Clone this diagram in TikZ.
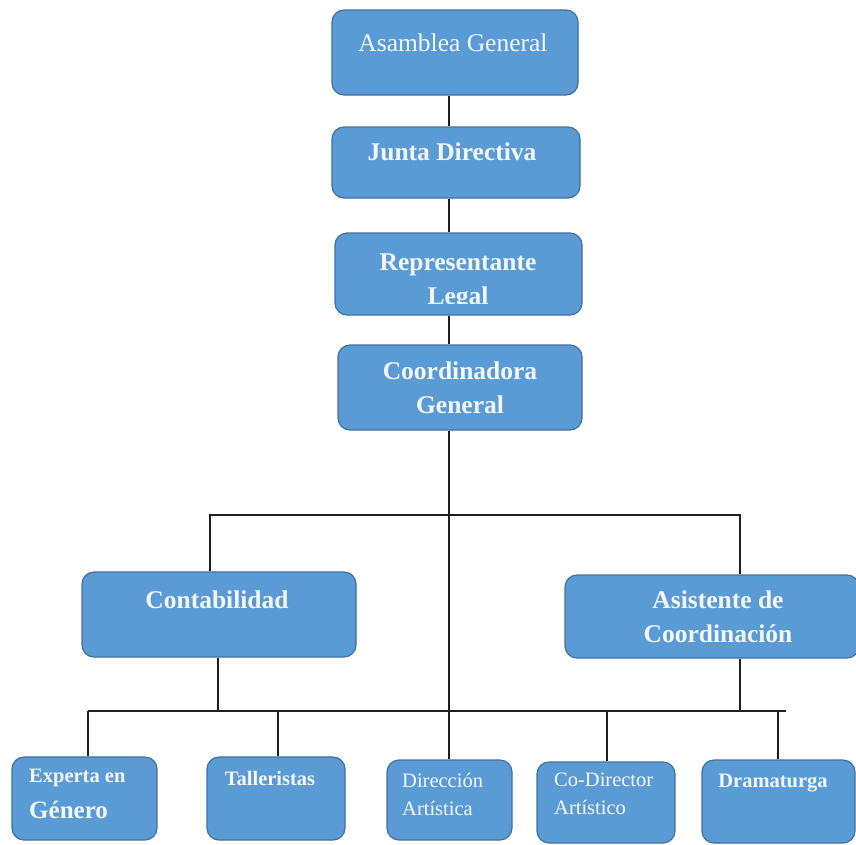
\documentclass[tikz,border=0pt]{standalone}
\usepackage{fontspec}
\setmainfont{Liberation Serif}
\usetikzlibrary{calc}

\begin{document}
\begin{tikzpicture}[
  x=1pt, y=-1pt,
  box/.style={
      draw={rgb,255:red,65;green,113;blue,156},
      fill={rgb,255:red,91;green,155;blue,213},
      rounded corners=12pt,
      line width=1.2pt,
      inner sep=0pt
    },
  boxtext/.style={
      text={rgb,255:red,242;green,247;blue,252},
      font=\bfseries\fontsize{25.5}{34}\selectfont,
      align=center,
      inner sep=0pt
    },
  smalltext/.style={
      boxtext,
      font=\bfseries\fontsize{20.5}{28}\selectfont,
      align=left
    },
  line/.style={
      draw={rgb,255:red,30;green,30;blue,30},
      line width=1.6pt
    }]
  \useasboundingbox [fill=white] (0,0) rectangle (856,844);

  % upper chain
  \node [box, minimum width=246pt, minimum height=85pt] (asamblea) at (455,52.5) {};
  \node [box, minimum width=248pt, minimum height=71pt] (junta) at (456,162.5) {};
  \node [box, minimum width=247pt, minimum height=82pt] (repres) at (458.5,274) {};
  \node [box, minimum width=244pt, minimum height=85pt] (coord) at (460,387.5) {};

  \node [boxtext, font=\fontsize{25.5}{34}\selectfont] (asamblea_t) at (453,43) {Asamblea General};
  \node [boxtext] (junta_t) at (452,152) {Junta Directiva};
  \begin{scope}
    \clip (335,233) rectangle (582,303);
    \node [boxtext] (repres_t) at (458,281.5) {Representante\\Legal};
  \end{scope}
  \node [boxtext] (coord_t) at (460,387.5) {Coordinadora\\General};

  % middle level
  \node [box, minimum width=274pt, minimum height=85pt] (contab) at (219,614.5) {};
  \node [box, minimum width=294pt, minimum height=83pt] (asist) at (712,616.5) {};
  \node [boxtext] (contab_t) at (217,600) {Contabilidad};
  \node [boxtext] (asist_t) at (718,617) {Asistente de\\Coordinación};

  % lower level
  \node [box, minimum width=145pt, minimum height=83pt] (experta) at (84.5,798.5) {};
  \node [box, minimum width=138pt, minimum height=83pt] (talleristas) at (276,798.5) {};
  \node [box, minimum width=125pt, minimum height=80pt] (direccion) at (449.5,800) {};
  \node [box, minimum width=138pt, minimum height=81pt] (codirector) at (606,802.5) {};
  \node [box, minimum width=153pt, minimum height=83pt] (dramaturga) at (778.5,801.5) {};

  \node [smalltext, anchor=west] (experta_t) at (29,778) {Experta en};
  \node [smalltext, anchor=west, font=\bfseries\fontsize{25}{28}\selectfont] (genero_t) at (29,810) {Género};
  \node [smalltext] (talleristas_t) at (270,778) {Talleristas};
  \node [smalltext, anchor=west, font=\fontsize{20.5}{28}\selectfont] (direccion_t) at (402,794) {Dirección\\Artística};
  \node [smalltext, anchor=west, font=\fontsize{20.5}{28}\selectfont] (codirector_t) at (554,794) {Co-Director\\Artístico};
  \node [smalltext] (dramaturga_t) at (773,783) {Dramaturga};

  % connectors
  \coordinate (spine) at (449,0);
  \draw [line] (asamblea.south -| spine) -- (junta.north -| spine);
  \draw [line] (junta.south -| spine) -- (repres.north -| spine);
  \draw [line] (repres.south -| spine) -- (coord.north -| spine);
  \draw [line] (coord.south -| spine) -- (direccion.north -| spine);

  \coordinate (bar_l) at (210,515);
  \coordinate (bar_r) at (740,515);
  \draw [line] (contab.north -| bar_l) -- (bar_l) -- (bar_r) -- (asist.north -| bar_r);

  \coordinate (low_l) at (88,711);
  \coordinate (low_r) at (786,711);
  \draw [line] (low_l) -- (low_r);
  \draw [line] (contab.south -| 218,0) -- (218,711);
  \draw [line] (asist.south -| 740,0) -- (740,711);
  \foreach \n/\x in {experta/88, talleristas/278, codirector/607, dramaturga/778}
    \draw [line] (\x,711) -- (\x,0 |- \n.north);
\end{tikzpicture}
\end{document}
